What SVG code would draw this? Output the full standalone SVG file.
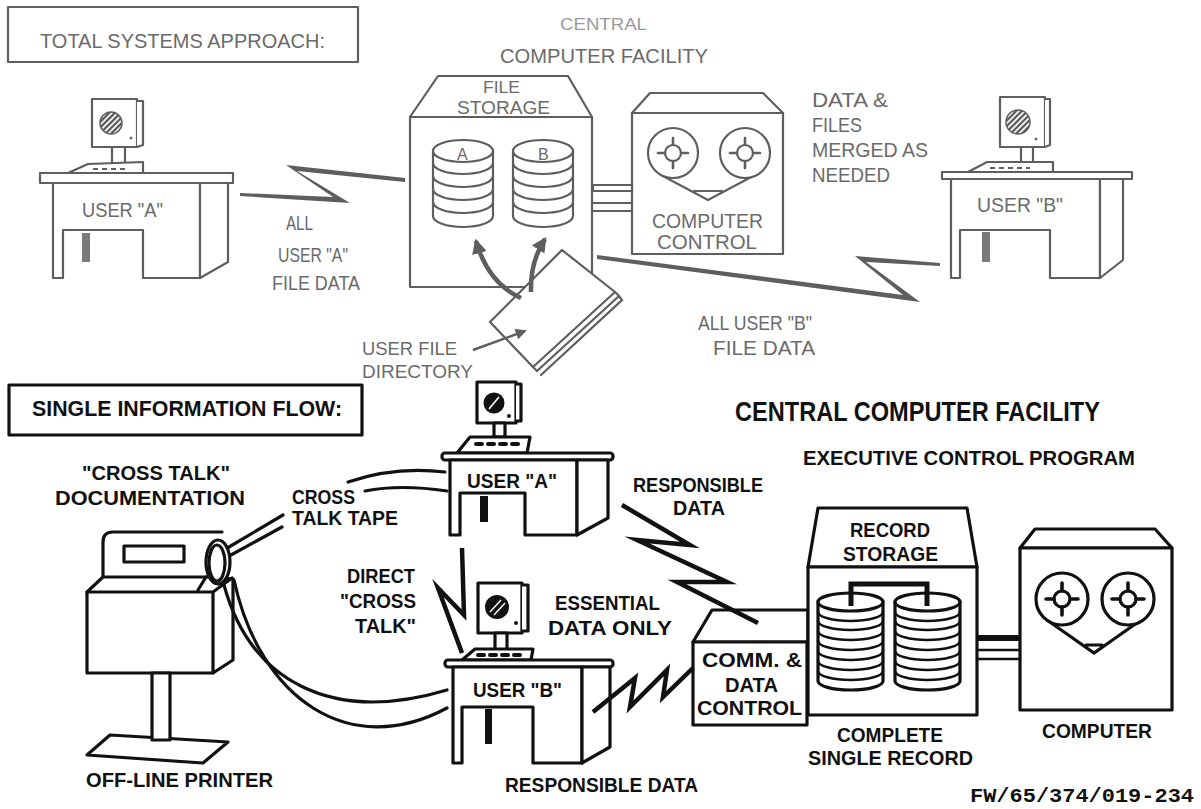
<svg xmlns="http://www.w3.org/2000/svg" width="1201" height="809" viewBox="0 0 1201 809">
<defs>
<style>
 .g{fill:#fff;stroke:#5e5e5e;stroke-width:2.2;stroke-linejoin:round}
 .gl{fill:none;stroke:#5e5e5e;stroke-width:2.2;stroke-linecap:round}
 .gf{fill:#6a6a6a;stroke:none}
 .k{fill:#fff;stroke:#111;stroke-width:3.2;stroke-linejoin:round}
 .kl{fill:none;stroke:#111;stroke-width:3.2;stroke-linecap:round}
 .kf{fill:#111;stroke:none}
 .bolt{fill:none;stroke:#111;stroke-width:4.5;stroke-linejoin:miter;stroke-miterlimit:10}
 .tl{font-family:"Liberation Sans",Arial,sans-serif;fill:#6a6a6a;font-size:21px}
 .tb{font-family:"Liberation Sans",Arial,sans-serif;font-weight:bold;fill:#111;font-size:21px}
 .mono{font-family:"Liberation Mono","Courier New",monospace;font-weight:bold;fill:#111;font-size:21px}
</style>
<pattern id="hatch" width="4" height="4" patternUnits="userSpaceOnUse" patternTransform="rotate(-45)">
 <rect width="4" height="4" fill="#fff"/><rect width="4" height="2.2" fill="#555"/>
</pattern>
<marker id="headG" viewBox="0 0 12 12" refX="10" refY="6" markerWidth="15" markerHeight="15" markerUnits="userSpaceOnUse" orient="auto">
 <path d="M0,0 L12,6 L0,12 z" fill="#5e5e5e"/>
</marker>
<marker id="headS" viewBox="0 0 12 12" refX="10" refY="6" markerWidth="13" markerHeight="11" markerUnits="userSpaceOnUse" orient="auto">
 <path d="M0,0 L12,6 L0,12 z" fill="#5e5e5e"/>
</marker>
</defs>

<rect width="1201" height="809" fill="#fff"/>

<!-- ===== upper panel: total systems approach ===== -->
<g id="title-total">
 <rect x="8" y="7" width="350" height="55" class="g"/>
 <text x="40" y="48" class="tl" textLength="285" lengthAdjust="spacingAndGlyphs">TOTAL SYSTEMS APPROACH:</text>
</g>

<g id="title-central-top">
 <text x="560" y="30" class="tl" style="fill:#9a9a9a;font-size:17px" textLength="87" lengthAdjust="spacingAndGlyphs">CENTRAL</text>
 <text x="500" y="63" class="tl" style="font-size:20px" textLength="208" lengthAdjust="spacingAndGlyphs">COMPUTER FACILITY</text>
</g>

<g id="user-a-top">
 <rect x="92" y="99" width="45" height="48" class="g"/>
 <path d="M137,101 H143 V145 L137,147" class="g"/>
 <circle cx="111" cy="123" r="11" fill="url(#hatch)" stroke="#5e5e5e" stroke-width="1.5"/>
 <circle cx="131" cy="138" r="1.5" class="gf"/>
 <rect x="112" y="147" width="13" height="16" class="g"/>
 <path d="M68,173 L88,164 L143,162 L143,173 Z" class="g"/>
 <line x1="93" y1="169" x2="128" y2="169" stroke="#5e5e5e" stroke-width="2" stroke-dasharray="5,4"/>
 <rect x="40" y="173" width="193" height="10" class="g"/>
 <path d="M53,183 V278 H63 V230 H143 V278 H200 V183 Z" class="g"/>
 <path d="M200,183 H228 V262 L200,278 Z" class="g"/>
 <rect x="82" y="233" width="8" height="29" fill="#7a7a7a"/>
 <text x="82" y="217" class="tl" textLength="81" lengthAdjust="spacingAndGlyphs">USER "A"</text>
</g>

<g id="file-storage">
 <path d="M410,117 L438,76 H568 L592,117 Z" class="g"/>
 <rect x="410" y="117" width="182" height="170" class="g"/>
 <text x="483" y="93" class="tl" style="font-size:16px" textLength="37" lengthAdjust="spacingAndGlyphs">FILE</text>
 <text x="457" y="114" class="tl" style="font-size:19px" textLength="93" lengthAdjust="spacingAndGlyphs">STORAGE</text>
 <path d="M433,151 V216 A30,11 0 0 0 493,216 V151 Z" class="g"/>
 <ellipse cx="463" cy="151" rx="30" ry="11" class="g"/>
 <path d="M433,163 A30,11 0 0 0 493,163 M433,176 A30,11 0 0 0 493,176 M433,189 A30,11 0 0 0 493,189 M433,202 A30,11 0 0 0 493,202" class="gl"/>
 <text x="457" y="160" class="tl" style="font-size:16px">A</text>
 <path d="M513,151 V216 A30,11 0 0 0 573,216 V151 Z" class="g"/>
 <ellipse cx="543" cy="151" rx="30" ry="11" class="g"/>
 <path d="M513,163 A30,11 0 0 0 573,163 M513,176 A30,11 0 0 0 573,176 M513,189 A30,11 0 0 0 573,189 M513,202 A30,11 0 0 0 573,202" class="gl"/>
 <text x="538" y="160" class="tl" style="font-size:16px">B</text>
</g>

<g id="computer-control">
 <path d="M632,113 L650,93 H763 L783,113 Z" class="g"/>
 <rect x="632" y="113" width="151" height="141" class="g"/>
 <path d="M661,175 L708,200 L755,175 M694,191 H722" class="gl"/>
 <circle cx="673" cy="153" r="25" class="g"/>
 <circle cx="745" cy="153" r="25" class="g"/>
 <circle cx="673" cy="153" r="8" class="g"/>
 <circle cx="745" cy="153" r="8" class="g"/>
 <path d="M673,138 V145 M673,161 V168 M658,153 H665 M681,153 H688 M745,138 V145 M745,161 V168 M730,153 H737 M753,153 H760" class="gl" style="stroke-width:2.6"/>
 <text x="652" y="228" class="tl" style="font-size:20px" textLength="111" lengthAdjust="spacingAndGlyphs">COMPUTER</text>
 <text x="657" y="249" class="tl" style="font-size:20px" textLength="100" lengthAdjust="spacingAndGlyphs">CONTROL</text>
</g>

<g id="merge-note">
 <text x="812" y="107" class="tl" style="font-size:20px" textLength="76" lengthAdjust="spacingAndGlyphs">DATA &amp;</text>
 <text x="812" y="132" class="tl" style="font-size:20px" textLength="50" lengthAdjust="spacingAndGlyphs">FILES</text>
 <text x="812" y="157" class="tl" style="font-size:20px" textLength="116" lengthAdjust="spacingAndGlyphs">MERGED AS</text>
 <text x="812" y="182" class="tl" style="font-size:20px" textLength="78" lengthAdjust="spacingAndGlyphs">NEEDED</text>
</g>

<g id="user-b-top">
 <rect x="1000" y="97" width="45" height="50" class="g"/>
 <path d="M1045,99 H1050 V145 L1045,147" class="g"/>
 <circle cx="1018" cy="122" r="12" fill="url(#hatch)" stroke="#5e5e5e" stroke-width="1.5"/>
 <circle cx="1036" cy="139" r="1.5" class="gf"/>
 <rect x="1021" y="147" width="12" height="15" class="g"/>
 <path d="M968,172 L987,162 L1053,162 L1053,172 Z" class="g"/>
 <line x1="990" y1="168" x2="1030" y2="168" stroke="#5e5e5e" stroke-width="2" stroke-dasharray="5,4"/>
 <rect x="942" y="172" width="190" height="7" class="g"/>
 <path d="M951,179 V278 H960 V230 H1050 V278 H1100 V179 Z" class="g"/>
 <path d="M1100,179 H1123 V260 L1100,278 Z" class="g"/>
 <rect x="982" y="232" width="8" height="30" fill="#7a7a7a"/>
 <text x="977" y="212" class="tl" style="font-size:20px" textLength="86" lengthAdjust="spacingAndGlyphs">USER "B"</text>
</g>

<g id="user-file-directory">
 <path d="M562,250 L615,292 L533,367 L490,322 Z" class="g"/>
 <path d="M615,292 L619,296 L537,371 L533,367 M619,296 L622,300 L541,375" class="gl"/>
 <text x="362" y="355" class="tl" style="font-size:19px" textLength="95" lengthAdjust="spacingAndGlyphs">USER FILE</text>
 <text x="362" y="378" class="tl" style="font-size:19px" textLength="111" lengthAdjust="spacingAndGlyphs">DIRECTORY</text>
</g>

<g id="upper-labels">
 <text x="286" y="230" class="tl" textLength="27" lengthAdjust="spacingAndGlyphs">ALL</text>
 <text x="278" y="262" class="tl" textLength="70" lengthAdjust="spacingAndGlyphs">USER "A"</text>
 <text x="272" y="290" class="tl" textLength="88" lengthAdjust="spacingAndGlyphs">FILE DATA</text>
 <text x="698" y="330" class="tl" style="font-size:20px" textLength="114" lengthAdjust="spacingAndGlyphs">ALL USER "B"</text>
 <text x="713" y="355" class="tl" style="font-size:20px" textLength="102" lengthAdjust="spacingAndGlyphs">FILE DATA</text>
</g>

<!-- ===== lower panel: single information flow ===== -->
<g id="title-single">
 <rect x="9" y="385" width="353" height="50" class="k"/>
 <text x="32" y="416" class="tb" style="font-size:22px" textLength="310" lengthAdjust="spacingAndGlyphs">SINGLE INFORMATION FLOW:</text>
</g>

<g id="title-central-bottom">
 <text x="735" y="421" class="tb" style="font-size:28px" textLength="365" lengthAdjust="spacingAndGlyphs">CENTRAL COMPUTER FACILITY</text>
 <text x="803" y="465" class="tb" textLength="332" lengthAdjust="spacingAndGlyphs">EXECUTIVE CONTROL PROGRAM</text>
</g>

<g id="printer">
 <path d="M103,578 V542 Q103,532 113,532 H222" class="kl"/>
 <rect x="124" y="546" width="60" height="16" class="k"/>
 <path d="M87,592 L103,577 H214 L233,579 V660 L213,673 H87 Z" class="k"/>
 <path d="M87,592 H213 V673 M213,592 L232,578 M198,590 L206,577" class="kl"/>
 <ellipse cx="218" cy="562" rx="12" ry="22" class="k"/>
 <ellipse cx="217" cy="563" rx="8" ry="18" class="k"/>
 <path d="M87,755 L110,735 L228,742 L203,763 Z" class="k"/>
 <rect x="152" y="673" width="18" height="67" class="k"/>
 <text x="82" y="480" class="tb" textLength="148" lengthAdjust="spacingAndGlyphs">"CROSS TALK"</text>
 <text x="55" y="505" class="tb" textLength="190" lengthAdjust="spacingAndGlyphs">DOCUMENTATION</text>
 <text x="86" y="787" class="tb" textLength="187" lengthAdjust="spacingAndGlyphs">OFF-LINE PRINTER</text>
</g>

<g id="user-a-bottom">
 <rect x="477" y="382" width="39" height="41" class="k"/>
 <path d="M516,384 H521 V421 H516" class="k"/>
 <circle cx="494" cy="403" r="10.5" class="kf"/>
 <line x1="489" y1="409" x2="499" y2="397" stroke="#fff" stroke-width="1.6"/>
 <circle cx="509" cy="416" r="2" class="kf"/>
 <rect x="494" y="423" width="11" height="14" class="k"/>
 <path d="M457,453 L470,437 L530,437 L527,453 Z" class="k"/>
 <line x1="476" y1="444" x2="521" y2="444" stroke="#111" stroke-width="4" stroke-linecap="round" stroke-dasharray="6,6"/>
 <rect x="442" y="453" width="171" height="7" rx="3" class="k"/>
 <path d="M450,460 V535 H460 V493 H525 V535 H577 V460 Z" class="k"/>
 <path d="M577,460 H608 V518 L577,535 Z" class="k"/>
 <rect x="480" y="496" width="8" height="26" class="kf"/>
 <text x="467" y="488" class="tb" textLength="90" lengthAdjust="spacingAndGlyphs">USER "A"</text>
</g>

<g id="user-b-bottom">
 <rect x="478" y="583" width="44" height="50" class="k"/>
 <path d="M522,585 H528 V631 H522" class="k"/>
 <circle cx="497" cy="607" r="12" class="kf"/>
 <path d="M490,612 L501,600 M494,615 L505,603" stroke="#fff" stroke-width="1.4"/>
 <circle cx="516" cy="623" r="2" class="kf"/>
 <rect x="495" y="633" width="12" height="17" class="k"/>
 <path d="M462,660 L475,649 L533,649 L531,660 Z" class="k"/>
 <line x1="478" y1="655" x2="522" y2="655" stroke="#111" stroke-width="4" stroke-linecap="round" stroke-dasharray="6,6"/>
 <rect x="445" y="660" width="168" height="7" rx="3" class="k"/>
 <path d="M453,667 V763 H462 V707 H533 V763 H582 V667 Z" class="k"/>
 <path d="M582,667 H610 V747 L582,763 Z" class="k"/>
 <rect x="485" y="709" width="7" height="35" class="kf"/>
 <text x="473" y="697" class="tb" textLength="89" lengthAdjust="spacingAndGlyphs">USER "B"</text>
</g>

<g id="comm-data-control">
 <path d="M693,642 L712,610 H808 V642 Z" class="k"/>
 <rect x="693" y="642" width="114" height="83" class="k"/>
 <text x="702" y="667" class="tb" textLength="100" lengthAdjust="spacingAndGlyphs">COMM. &amp;</text>
 <text x="725" y="692" class="tb" textLength="53" lengthAdjust="spacingAndGlyphs">DATA</text>
 <text x="697" y="715" class="tb" textLength="105" lengthAdjust="spacingAndGlyphs">CONTROL</text>
</g>

<g id="record-storage">
 <path d="M808,567 L818,508 H967 L977,567 Z" class="k"/>
 <rect x="808" y="567" width="169" height="148" class="k"/>
 <text x="850" y="537" class="tb" textLength="80" lengthAdjust="spacingAndGlyphs">RECORD</text>
 <text x="843" y="561" class="tb" textLength="95" lengthAdjust="spacingAndGlyphs">STORAGE</text>
 <path d="M818,602 V681 A32.5,9 0 0 0 883,681 V602 Z" class="k"/>
 <ellipse cx="850.5" cy="602" rx="32.5" ry="9" class="k"/>
 <path d="M818,612 A32.5,9 0 0 0 883,612 M818,621 A32.5,9 0 0 0 883,621 M818,631 A32.5,9 0 0 0 883,631 M818,641 A32.5,9 0 0 0 883,641 M818,651 A32.5,9 0 0 0 883,651 M818,661 A32.5,9 0 0 0 883,661 M818,671 A32.5,9 0 0 0 883,671" class="kl" style="stroke-width:2.6"/>
 <path d="M895,602 V681 A32.5,9 0 0 0 960,681 V602 Z" class="k"/>
 <ellipse cx="927.5" cy="602" rx="32.5" ry="9" class="k"/>
 <path d="M895,612 A32.5,9 0 0 0 960,612 M895,621 A32.5,9 0 0 0 960,621 M895,631 A32.5,9 0 0 0 960,631 M895,641 A32.5,9 0 0 0 960,641 M895,651 A32.5,9 0 0 0 960,651 M895,661 A32.5,9 0 0 0 960,661 M895,671 A32.5,9 0 0 0 960,671" class="kl" style="stroke-width:2.6"/>
 <path d="M851,606 V584 H927 V606" fill="none" stroke="#111" stroke-width="5"/>
 <text x="837" y="742" class="tb" textLength="106" lengthAdjust="spacingAndGlyphs">COMPLETE</text>
 <text x="808" y="765" class="tb" textLength="165" lengthAdjust="spacingAndGlyphs">SINGLE RECORD</text>
</g>

<g id="computer">
 <path d="M1020,548 L1035,529 H1155 L1172,548 Z" class="k"/>
 <rect x="1020" y="548" width="152" height="162" class="k"/>
 <path d="M1047,620 L1094,653 L1141,620 M1086,645 H1102" class="kl"/>
 <circle cx="1062" cy="599" r="26" class="k"/>
 <circle cx="1128" cy="599" r="26" class="k"/>
 <circle cx="1062" cy="599" r="8" class="k"/>
 <circle cx="1128" cy="599" r="8" class="k"/>
 <path d="M1062,583 V591 M1062,607 V615 M1046,599 H1054 M1070,599 H1078 M1128,583 V591 M1128,607 V615 M1112,599 H1120 M1136,599 H1144" class="kl" style="stroke-width:3.6"/>
 <text x="1042" y="738" class="tb" style="font-size:20px" textLength="110" lengthAdjust="spacingAndGlyphs">COMPUTER</text>
</g>

<g id="lower-labels">
 <text x="292" y="504" class="tb" textLength="63" lengthAdjust="spacingAndGlyphs">CROSS</text>
 <text x="292" y="525" class="tb" textLength="106" lengthAdjust="spacingAndGlyphs">TALK TAPE</text>
 <text x="347" y="583" class="tb" textLength="68" lengthAdjust="spacingAndGlyphs">DIRECT</text>
 <text x="340" y="608" class="tb" textLength="76" lengthAdjust="spacingAndGlyphs">"CROSS</text>
 <text x="355" y="633" class="tb" textLength="61" lengthAdjust="spacingAndGlyphs">TALK"</text>
 <text x="633" y="492" class="tb" textLength="130" lengthAdjust="spacingAndGlyphs">RESPONSIBLE</text>
 <text x="673" y="515" class="tb" textLength="52" lengthAdjust="spacingAndGlyphs">DATA</text>
 <text x="555" y="610" class="tb" textLength="105" lengthAdjust="spacingAndGlyphs">ESSENTIAL</text>
 <text x="548" y="635" class="tb" textLength="124" lengthAdjust="spacingAndGlyphs">DATA ONLY</text>
 <text x="505" y="792" class="tb" textLength="193" lengthAdjust="spacingAndGlyphs">RESPONSIBLE DATA</text>
 <text x="970" y="802" class="mono" textLength="224" lengthAdjust="spacingAndGlyphs">FW/65/374/019-234</text>
</g>

<!-- ===== connectors ===== -->
<g id="connectors">
 <!-- upper panel links -->
 <polygon points="240,193 333,197 286,165 405,178 405,182 297,171 350,203 240,196" fill="#5e5e5e"/>
 <polygon points="597,255 903,295 855,256 940,263 940,266 866,262 920,302 597,259" fill="#5e5e5e"/>
 <rect x="593" y="185" width="39" height="6" class="g"/>
 <line x1="593" y1="203" x2="632" y2="203" class="gl"/>
 <line x1="593" y1="211" x2="632" y2="211" class="gl"/>
 <path d="M521,298 Q488,283 476,241" fill="none" stroke="#5e5e5e" stroke-width="4.5" marker-end="url(#headG)"/>
 <path d="M531,292 Q530,262 545,239" fill="none" stroke="#5e5e5e" stroke-width="4.5" marker-end="url(#headG)"/>
 <path d="M473,350 L525,331" fill="none" stroke="#5e5e5e" stroke-width="2.5" marker-end="url(#headS)"/>
 <!-- lower panel links -->
 <path d="M348,482 Q395,466 445,472" class="kl"/>
 <path d="M365,491 Q400,484 447,491" class="kl"/>
 <path d="M229,547 L283,515 M231,555 L282,527" class="kl"/>
 <path d="M224,585 C250,680 330,725 447,690" class="kl"/>
 <path d="M234,580 C260,700 350,760 447,708" class="kl"/>
 <polyline points="462,548 464,615 438,588 462,653" class="bolt"/>
 <polyline points="622,505 690,545 637,540 727,582 677,582 758,623" class="bolt"/>
 <polyline points="593,712 635,678 630,707 667,670 663,697 693,668" class="bolt"/>
 <rect x="977" y="635" width="43" height="6" class="kf"/>
 <line x1="977" y1="650" x2="1020" y2="650" class="kl" style="stroke-width:2.5"/>
 <line x1="977" y1="659" x2="1020" y2="659" class="kl" style="stroke-width:2.5"/>
</g>
</svg>
